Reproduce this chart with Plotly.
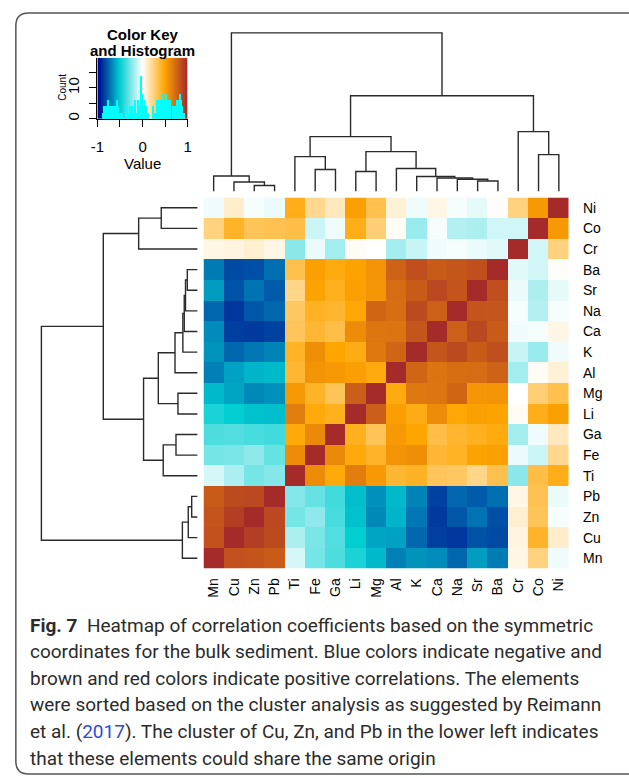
import numpy as np
import plotly.graph_objects as go

W, H = 629, 778

elements = ["Mn", "Cu", "Zn", "Pb", "Ti", "Fe", "Ga", "Li", "Mg",
            "Al", "K", "Ca", "Na", "Sr", "Ba", "Cr", "Co", "Ni"]

corr = [
    [1.00, 0.84, 0.83, 0.80, -0.08, -0.27, -0.35, -0.45, -0.55, -0.69, -0.64, -0.66, -0.75, -0.62, -0.70, 0.05, 0.25, -0.03],
    [0.84, 1.00, 0.92, 0.87, -0.16, -0.26, -0.34, -0.50, -0.60, -0.61, -0.75, -0.85, -0.87, -0.80, -0.82, 0.06, 0.42, 0.10],
    [0.83, 0.92, 1.00, 0.88, -0.27, -0.22, -0.36, -0.53, -0.67, -0.56, -0.71, -0.86, -0.79, -0.72, -0.81, 0.09, 0.33, -0.02],
    [0.80, 0.87, 0.88, 1.00, -0.24, -0.30, -0.37, -0.54, -0.65, -0.55, -0.68, -0.84, -0.75, -0.78, -0.73, 0.05, 0.34, -0.04],
    [-0.08, -0.16, -0.27, -0.24, 1.00, 0.60, 0.48, 0.66, 0.55, 0.40, 0.43, 0.32, 0.31, 0.23, 0.35, -0.23, 0.36, 0.45],
    [-0.27, -0.26, -0.22, -0.30, 0.60, 1.00, 0.61, 0.48, 0.42, 0.57, 0.59, 0.40, 0.43, 0.51, 0.52, -0.04, -0.10, 0.22],
    [-0.35, -0.34, -0.36, -0.37, 0.48, 0.61, 1.00, 0.44, 0.33, 0.55, 0.50, 0.36, 0.41, 0.44, 0.47, -0.18, -0.03, 0.13],
    [-0.45, -0.50, -0.53, -0.54, 0.66, 0.48, 0.44, 1.00, 0.79, 0.53, 0.46, 0.60, 0.49, 0.52, 0.51, 0.02, 0.45, 0.52],
    [-0.55, -0.60, -0.67, -0.65, 0.55, 0.42, 0.33, 0.79, 1.00, 0.47, 0.68, 0.69, 0.76, 0.56, 0.57, 0.00, 0.27, 0.35],
    [-0.69, -0.61, -0.56, -0.55, 0.40, 0.57, 0.55, 0.53, 0.47, 1.00, 0.76, 0.70, 0.72, 0.73, 0.77, -0.18, 0.02, 0.08],
    [-0.64, -0.75, -0.71, -0.68, 0.43, 0.59, 0.50, 0.46, 0.68, 0.76, 1.00, 0.82, 0.87, 0.80, 0.85, -0.11, -0.20, -0.03],
    [-0.66, -0.85, -0.86, -0.84, 0.32, 0.40, 0.36, 0.60, 0.69, 0.70, 0.82, 1.00, 0.78, 0.88, 0.80, -0.03, -0.02, 0.05],
    [-0.75, -0.87, -0.79, -0.75, 0.31, 0.43, 0.41, 0.49, 0.76, 0.72, 0.87, 0.78, 1.00, 0.83, 0.82, -0.02, -0.15, -0.02],
    [-0.62, -0.80, -0.72, -0.78, 0.23, 0.51, 0.44, 0.52, 0.56, 0.73, 0.80, 0.88, 0.83, 1.00, 0.85, -0.04, -0.16, -0.05],
    [-0.70, -0.82, -0.81, -0.73, 0.35, 0.52, 0.47, 0.51, 0.57, 0.77, 0.85, 0.80, 0.82, 0.85, 1.00, -0.06, -0.09, 0.01],
    [0.05, 0.06, 0.09, 0.05, -0.23, -0.04, -0.18, 0.02, 0.00, -0.18, -0.11, -0.03, -0.02, -0.04, -0.06, 1.00, -0.09, 0.25],
    [0.25, 0.42, 0.33, 0.34, 0.36, -0.10, -0.03, 0.45, 0.27, 0.02, -0.20, -0.02, -0.15, -0.16, -0.09, -0.09, 1.00, 0.55],
    [-0.03, 0.10, -0.02, -0.04, 0.45, 0.22, 0.13, 0.52, 0.35, 0.08, -0.03, 0.05, -0.02, -0.05, 0.01, 0.25, 0.55, 1.00],
]

# cluster tree: (height, left, right)
tree = (159,
        (15.5, "Mn", (9.5, "Cu", (6, "Zn", "Pb"))),
        (96,
         (55,
          (35, "Ti", (22, "Fe", "Ga")),
          (40, (20, "Li", "Mg"),
           (23, "Al", (15, "K", (13.6, "Ca", (12.3, "Na", (10.5, "Sr", "Ba"))))))),
         (60, "Cr", (37, "Co", "Ni"))))

caption_lines = [
    "<b>Fig. 7</b>  Heatmap of correlation coefficients based on the symmetric",
    "coordinates for the bulk sediment. Blue colors indicate negative and",
    "brown and red colors indicate positive correlations. The elements",
    "were sorted based on the cluster analysis as suggested by Reimann",
    "et al. (<span style='color:#2b4bd6'>2017</span>). The cluster of Cu, Zn, and Pb in the lower left indicates",
    "that these elements could share the same origin",
]

colorscale = [[0.0, "#00008B"], [0.25, "#00CED1"], [0.5, "#FFFFFF"],
              [0.75, "#FFA500"], [1.0, "#A52A2A"]]


def fx(p):
    return p / W


def fy(p):
    return 1 - p / H


M = np.array(corr)
M = (M + M.T) / 2
n = len(elements)
idx = list(range(n))

fig = go.Figure()

# main heatmap
fig.add_trace(go.Heatmap(z=M, x=idx, y=idx, colorscale=colorscale, zmin=-1, zmax=1,
                         showscale=False, xaxis="x", yaxis="y", hoverinfo="skip"))

# dendrograms
segs = []


def walk(node):
    if isinstance(node, str):
        return elements.index(node), 0.0
    h, a, b = node
    pa, ha = walk(a)
    pb, hb = walk(b)
    segs.append(((pa, ha), (pa, h), (pb, h), (pb, hb)))
    return (pa + pb) / 2, h


walk(tree)
tx, ty = [], []
for s in segs:
    for p, h in s:
        tx.append(p)
        ty.append(h)
    tx.append(None)
    ty.append(None)

line_style = dict(color="#2a2a2a", width=1.4)
fig.add_trace(go.Scatter(x=tx, y=ty, mode="lines", line=line_style, xaxis="x2", yaxis="y2",
                         hoverinfo="skip", showlegend=False))
fig.add_trace(go.Scatter(x=ty, y=tx, mode="lines", line=line_style, xaxis="x3", yaxis="y3",
                         hoverinfo="skip", showlegend=False))

# color key
edges = np.linspace(-1, 1, 201)
centers = (edges[:-1] + edges[1:]) / 2
KEY_TOP = 19.7
fig.add_trace(go.Heatmap(z=[centers], x=edges, y=[0, KEY_TOP], colorscale=colorscale,
                         zmin=-1, zmax=1, showscale=False, xaxis="x4", yaxis="y4",
                         hoverinfo="skip"))
fig.add_trace(go.Histogram(x=M.flatten(), xbins=dict(start=-1.0, end=1.0001, size=0.02),
                           marker=dict(color="#00FFFF", line=dict(width=0)),
                           xaxis="x4", yaxis="y4", hoverinfo="skip", showlegend=False))

lab_font = dict(family="Liberation Sans, Arial, sans-serif", size=14, color="#000000")
key_font = dict(family="Liberation Sans, Arial, sans-serif", size=15, color="#000000")
hidden = dict(visible=False, showgrid=False, zeroline=False)

fig.update_layout(
    width=W, height=H, margin=dict(l=0, r=0, t=0, b=0),
    paper_bgcolor="white", plot_bgcolor="rgba(0,0,0,0)", showlegend=False, bargap=0,
    xaxis=dict(domain=[fx(200), fx(572)], range=[-0.5, n - 0.5], anchor="y",
               tickvals=idx, ticktext=elements, tickangle=-90, ticks="",
               ticklabelstandoff=6, tickfont=lab_font, showgrid=False, zeroline=False,
               showline=False, fixedrange=True),
    yaxis=dict(domain=[fy(570), fy(198)], range=[-0.5, n - 0.5], anchor="x", side="right",
               tickvals=idx, ticktext=elements, ticks="", ticklabelstandoff=13,
               tickfont=lab_font, showgrid=False, zeroline=False, showline=False),
    xaxis2=dict(domain=[fx(200), fx(572)], range=[-0.5, n - 0.5], anchor="y2", **hidden),
    yaxis2=dict(domain=[fy(192), fy(30)], range=[0, 162], anchor="x2", **hidden),
    xaxis3=dict(domain=[fx(32), fx(194)], range=[162, 0], anchor="y3", **hidden),
    yaxis3=dict(domain=[fy(570), fy(198)], range=[-0.5, n - 0.5], anchor="x3", **hidden),
    xaxis4=dict(domain=[fx(92), fx(184)], range=[-1, 1], anchor="y4",
                tickvals=[-1, -0.5, 0, 0.5, 1], ticktext=["-1", "", "0", "", "1"],
                ticks="outside", ticklen=7, tickcolor="#000", showline=True,
                linecolor="#000", linewidth=1, tickfont=key_font, ticklabelstandoff=7,
                showgrid=False, zeroline=False),
    yaxis4=dict(domain=[fy(119), fy(58)], range=[0, KEY_TOP], anchor="x4",
                tickvals=[0, 5, 10, 15], ticktext=["0", "", "10", ""], tickangle=-90,
                ticks="outside", ticklen=7, tickcolor="#000", showline=True,
                linecolor="#000", linewidth=1, tickfont=key_font, ticklabelstandoff=4,
                showgrid=False, zeroline=False),
)

ann = [
    dict(text="<b>Color Key</b>", x=fx(138), y=fy(35)),
    dict(text="<b>and Histogram</b>", x=fx(138), y=fy(51)),
    dict(text="Value", x=fx(138), y=fy(164)),
]
for a in ann:
    fig.add_annotation(xref="paper", yref="paper", xanchor="center", yanchor="middle",
                       showarrow=False, font=key_font, **a)
fig.add_annotation(text="Count", xref="paper", yref="paper", x=fx(57), y=fy(88),
                   textangle=-90, showarrow=False, xanchor="center", yanchor="middle",
                   font=dict(family="Liberation Sans, Arial, sans-serif", size=10, color="#000"))

cap_font = dict(family="Roboto, sans-serif", size=19, color="#2b2b2b")
for i, t in enumerate(caption_lines):
    fig.add_annotation(text=t, xref="paper", yref="paper", x=fx(21), y=fy(627 + i * 26.6),
                       xanchor="left", yanchor="middle", showarrow=False, align="left",
                       font=cap_font)

# rounded frame (right side runs off the page)
x0, y0, x1, y1, r = 9, 13, 660, 776, 13
path = (f"M {fx(x1)},{fy(y0)} L {fx(x0 + r)},{fy(y0)} Q {fx(x0)},{fy(y0)} {fx(x0)},{fy(y0 + r)} "
        f"L {fx(x0)},{fy(y1 - r)} Q {fx(x0)},{fy(y1)} {fx(x0 + r)},{fy(y1)} L {fx(x1)},{fy(y1)}")
fig.add_shape(type="path", path=path, xref="paper", yref="paper",
              line=dict(color="#555555", width=1.5))

fig.write_html("out.html")
